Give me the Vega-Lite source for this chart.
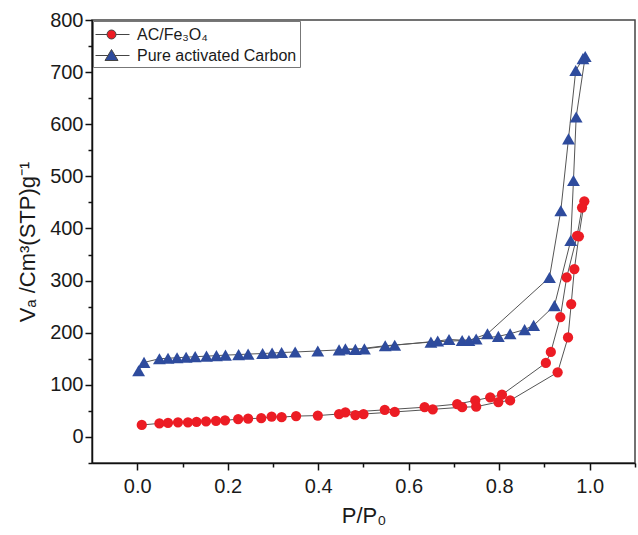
{
  "$schema": "https://vega.github.io/schema/vega-lite/v6.json",
  "width": 543,
  "height": 443,
  "autosize": "none",
  "padding": {"left": 92, "top": 20, "right": 3, "bottom": 72},
  "background": "white",
  "config": {
    "font": "Liberation Sans",
    "view": {"stroke": "#444", "strokeWidth": 1.5},
    "axis": {"grid": false, "domainColor": "#111", "domainWidth": 1.5, "tickColor": "#111", "tickWidth": 1.5, "labelColor": "#1a1a1a", "titleColor": "#1a1a1a", "labelFont": "Liberation Sans", "titleFont": "Liberation Sans", "labelFontSize": 20, "titleFontSize": 22, "titleFontWeight": "normal"},
    "legend": {
      "orient": "none",
      "legendX": 1,
      "legendY": 1,
      "padding": 3,
      "strokeColor": "#777",
      "fillColor": "white",
      "symbolSize": 400,
      "labelFontSize": 16,
      "labelFont": "Liberation Sans",
      "labelColor": "#1a1a1a",
      "labelOffset": 20,
      "rowPadding": 2,
      "symbolStrokeWidth": 1,
      "symbolStrokeColor": "#444"
    }
  },
  "datasets": {
    "iso": [
      {"s": "AC/Fe₃O₄", "b": "ads", "x": 0.010, "y": 23},
      {"s": "AC/Fe₃O₄", "b": "ads", "x": 0.049, "y": 26},
      {"s": "AC/Fe₃O₄", "b": "ads", "x": 0.068, "y": 27},
      {"s": "AC/Fe₃O₄", "b": "ads", "x": 0.090, "y": 28},
      {"s": "AC/Fe₃O₄", "b": "ads", "x": 0.112, "y": 28},
      {"s": "AC/Fe₃O₄", "b": "ads", "x": 0.131, "y": 29},
      {"s": "AC/Fe₃O₄", "b": "ads", "x": 0.152, "y": 30},
      {"s": "AC/Fe₃O₄", "b": "ads", "x": 0.174, "y": 31},
      {"s": "AC/Fe₃O₄", "b": "ads", "x": 0.194, "y": 32},
      {"s": "AC/Fe₃O₄", "b": "ads", "x": 0.223, "y": 34},
      {"s": "AC/Fe₃O₄", "b": "ads", "x": 0.245, "y": 35},
      {"s": "AC/Fe₃O₄", "b": "ads", "x": 0.274, "y": 36},
      {"s": "AC/Fe₃O₄", "b": "ads", "x": 0.297, "y": 39},
      {"s": "AC/Fe₃O₄", "b": "ads", "x": 0.319, "y": 38},
      {"s": "AC/Fe₃O₄", "b": "ads", "x": 0.351, "y": 40},
      {"s": "AC/Fe₃O₄", "b": "ads", "x": 0.399, "y": 41},
      {"s": "AC/Fe₃O₄", "b": "ads", "x": 0.446, "y": 44},
      {"s": "AC/Fe₃O₄", "b": "ads", "x": 0.482, "y": 42},
      {"s": "AC/Fe₃O₄", "b": "ads", "x": 0.500, "y": 44},
      {"s": "AC/Fe₃O₄", "b": "ads", "x": 0.569, "y": 48},
      {"s": "AC/Fe₃O₄", "b": "ads", "x": 0.653, "y": 53},
      {"s": "AC/Fe₃O₄", "b": "ads", "x": 0.718, "y": 57},
      {"s": "AC/Fe₃O₄", "b": "ads", "x": 0.749, "y": 58},
      {"s": "AC/Fe₃O₄", "b": "ads", "x": 0.798, "y": 67},
      {"s": "AC/Fe₃O₄", "b": "ads", "x": 0.824, "y": 70},
      {"s": "AC/Fe₃O₄", "b": "ads", "x": 0.929, "y": 124},
      {"s": "AC/Fe₃O₄", "b": "ads", "x": 0.952, "y": 191},
      {"s": "AC/Fe₃O₄", "b": "ads", "x": 0.959, "y": 255},
      {"s": "AC/Fe₃O₄", "b": "ads", "x": 0.966, "y": 322},
      {"s": "AC/Fe₃O₄", "b": "ads", "x": 0.976, "y": 385},
      {"s": "AC/Fe₃O₄", "b": "ads", "x": 0.988, "y": 452},
      {"s": "AC/Fe₃O₄", "b": "des", "x": 0.983, "y": 440},
      {"s": "AC/Fe₃O₄", "b": "des", "x": 0.972, "y": 386},
      {"s": "AC/Fe₃O₄", "b": "des", "x": 0.949, "y": 306},
      {"s": "AC/Fe₃O₄", "b": "des", "x": 0.935, "y": 230},
      {"s": "AC/Fe₃O₄", "b": "des", "x": 0.914, "y": 163},
      {"s": "AC/Fe₃O₄", "b": "des", "x": 0.903, "y": 142},
      {"s": "AC/Fe₃O₄", "b": "des", "x": 0.806, "y": 81},
      {"s": "AC/Fe₃O₄", "b": "des", "x": 0.780, "y": 76},
      {"s": "AC/Fe₃O₄", "b": "des", "x": 0.747, "y": 70},
      {"s": "AC/Fe₃O₄", "b": "des", "x": 0.707, "y": 63},
      {"s": "AC/Fe₃O₄", "b": "des", "x": 0.635, "y": 57},
      {"s": "AC/Fe₃O₄", "b": "des", "x": 0.547, "y": 52},
      {"s": "AC/Fe₃O₄", "b": "des", "x": 0.460, "y": 47},
      {"s": "Pure activated Carbon", "b": "ads", "x": 0.003, "y": 127},
      {"s": "Pure activated Carbon", "b": "ads", "x": 0.015, "y": 143},
      {"s": "Pure activated Carbon", "b": "ads", "x": 0.049, "y": 150},
      {"s": "Pure activated Carbon", "b": "ads", "x": 0.068, "y": 151},
      {"s": "Pure activated Carbon", "b": "ads", "x": 0.088, "y": 152},
      {"s": "Pure activated Carbon", "b": "ads", "x": 0.108, "y": 153},
      {"s": "Pure activated Carbon", "b": "ads", "x": 0.128, "y": 154},
      {"s": "Pure activated Carbon", "b": "ads", "x": 0.153, "y": 155},
      {"s": "Pure activated Carbon", "b": "ads", "x": 0.175, "y": 156},
      {"s": "Pure activated Carbon", "b": "ads", "x": 0.195, "y": 157},
      {"s": "Pure activated Carbon", "b": "ads", "x": 0.224, "y": 158},
      {"s": "Pure activated Carbon", "b": "ads", "x": 0.245, "y": 159},
      {"s": "Pure activated Carbon", "b": "ads", "x": 0.277, "y": 160},
      {"s": "Pure activated Carbon", "b": "ads", "x": 0.298, "y": 161},
      {"s": "Pure activated Carbon", "b": "ads", "x": 0.319, "y": 162},
      {"s": "Pure activated Carbon", "b": "ads", "x": 0.349, "y": 163},
      {"s": "Pure activated Carbon", "b": "ads", "x": 0.399, "y": 165},
      {"s": "Pure activated Carbon", "b": "ads", "x": 0.446, "y": 167},
      {"s": "Pure activated Carbon", "b": "ads", "x": 0.482, "y": 168},
      {"s": "Pure activated Carbon", "b": "ads", "x": 0.548, "y": 175},
      {"s": "Pure activated Carbon", "b": "ads", "x": 0.649, "y": 182},
      {"s": "Pure activated Carbon", "b": "ads", "x": 0.718, "y": 185},
      {"s": "Pure activated Carbon", "b": "ads", "x": 0.749, "y": 188},
      {"s": "Pure activated Carbon", "b": "ads", "x": 0.798, "y": 193},
      {"s": "Pure activated Carbon", "b": "ads", "x": 0.824, "y": 198},
      {"s": "Pure activated Carbon", "b": "ads", "x": 0.856, "y": 206},
      {"s": "Pure activated Carbon", "b": "ads", "x": 0.876, "y": 214},
      {"s": "Pure activated Carbon", "b": "ads", "x": 0.922, "y": 252},
      {"s": "Pure activated Carbon", "b": "ads", "x": 0.958, "y": 377},
      {"s": "Pure activated Carbon", "b": "ads", "x": 0.964, "y": 492},
      {"s": "Pure activated Carbon", "b": "ads", "x": 0.970, "y": 614},
      {"s": "Pure activated Carbon", "b": "ads", "x": 0.990, "y": 730},
      {"s": "Pure activated Carbon", "b": "des", "x": 0.985, "y": 726},
      {"s": "Pure activated Carbon", "b": "des", "x": 0.969, "y": 703},
      {"s": "Pure activated Carbon", "b": "des", "x": 0.953, "y": 572},
      {"s": "Pure activated Carbon", "b": "des", "x": 0.936, "y": 434},
      {"s": "Pure activated Carbon", "b": "des", "x": 0.911, "y": 306},
      {"s": "Pure activated Carbon", "b": "des", "x": 0.774, "y": 198},
      {"s": "Pure activated Carbon", "b": "des", "x": 0.733, "y": 185},
      {"s": "Pure activated Carbon", "b": "des", "x": 0.689, "y": 187},
      {"s": "Pure activated Carbon", "b": "des", "x": 0.664, "y": 184},
      {"s": "Pure activated Carbon", "b": "des", "x": 0.569, "y": 176},
      {"s": "Pure activated Carbon", "b": "des", "x": 0.502, "y": 169},
      {"s": "Pure activated Carbon", "b": "des", "x": 0.460, "y": 169}
    ]
  },
  "data": {"name": "iso"},
  "encoding": {
    "x": {
      "field": "x", "type": "quantitative",
      "scale": {"domain": [-0.1, 1.1], "nice": false, "zero": false},
      "axis": {
        "title": "P/P₀",
        "values": [0, 0.1, 0.2, 0.3, 0.4, 0.5, 0.6, 0.7, 0.8, 0.9, 1.0, 1.1],
        "labelExpr": "abs(round(datum.value*10)) % 2 == 0 ? format(datum.value, '.1f') : ''",
        "tickSize": {"condition": {"test": "abs(round(datum.value*10)) % 2 == 0", "value": 7}, "value": 4},
        "labelPadding": 6,
        "titlePadding": 9
      }
    },
    "y": {
      "field": "y", "type": "quantitative",
      "scale": {"domain": [-50, 800], "nice": false, "zero": false},
      "axis": {
        "title": "Vₐ /Cm³(STP)g⁻¹",
        "values": [-50, 0, 50, 100, 150, 200, 250, 300, 350, 400, 450, 500, 550, 600, 650, 700, 750, 800],
        "labelExpr": "datum.value % 100 == 0 ? format(datum.value, 'd') : ''",
        "tickSize": {"condition": {"test": "datum.value % 100 == 0", "value": 7}, "value": 4},
        "labelPadding": 2,
        "titlePadding": 10
      }
    }
  },
  "layer": [
    {
      "mark": {"type": "line", "color": "#555", "strokeWidth": 1},
      "encoding": {"detail": [{"field": "s"}, {"field": "b"}]}
    },
    {
      "transform": [{"filter": "datum.s == 'AC/Fe₃O₄'"}],
      "mark": {"type": "point", "shape": "circle", "filled": true, "opacity": 1, "size": 105},
      "encoding": {
        "color": {
          "field": "s", "type": "nominal",
          "scale": {"domain": ["AC/Fe₃O₄", "Pure activated Carbon"], "range": ["#ec1c24", "#2e4b9d"]},
          "legend": {
            "title": null,
            "encoding": {
              "symbols": {
                "shape": {"value": {"expr": "datum.value == 'AC/Fe₃O₄' ? 'M-1.1,0H0.05M0.95,0H2.3M0.05,0A0.45,0.45 0 1,1 0.95,0A0.45,0.45 0 1,1 0.05,0Z' : 'M-1.1,0H0.15M0.85,0H2.3M0.5,-0.6L1.15,0.5L-0.15,0.5Z'"}},
                "stroke": {"value": "#444"},
                "strokeWidth": {"value": 1}
              }
            },
            "encode": {
              "symbols": {
                "shape": {"value": {"expr": "datum.value == 'AC/Fe₃O₄' ? 'M-1.1,0H0.05M0.95,0H2.3M0.05,0A0.45,0.45 0 1,1 0.95,0A0.45,0.45 0 1,1 0.05,0Z' : 'M-1.1,0H0.15M0.85,0H2.3M0.5,-0.6L1.15,0.5L-0.15,0.5Z'"}},
                "stroke": {"value": "#444"},
                "strokeWidth": {"value": 1}
              }
            }
          }
        }
      }
    },
    {
      "transform": [{"filter": "datum.s == 'Pure activated Carbon'"}],
      "mark": {"type": "point", "shape": "triangle-up", "filled": true, "opacity": 1, "size": 165},
      "encoding": {
        "color": {
          "field": "s", "type": "nominal",
          "scale": {"domain": ["AC/Fe₃O₄", "Pure activated Carbon"], "range": ["#ec1c24", "#2e4b9d"]}
        }
      }
    }
  ]
}
